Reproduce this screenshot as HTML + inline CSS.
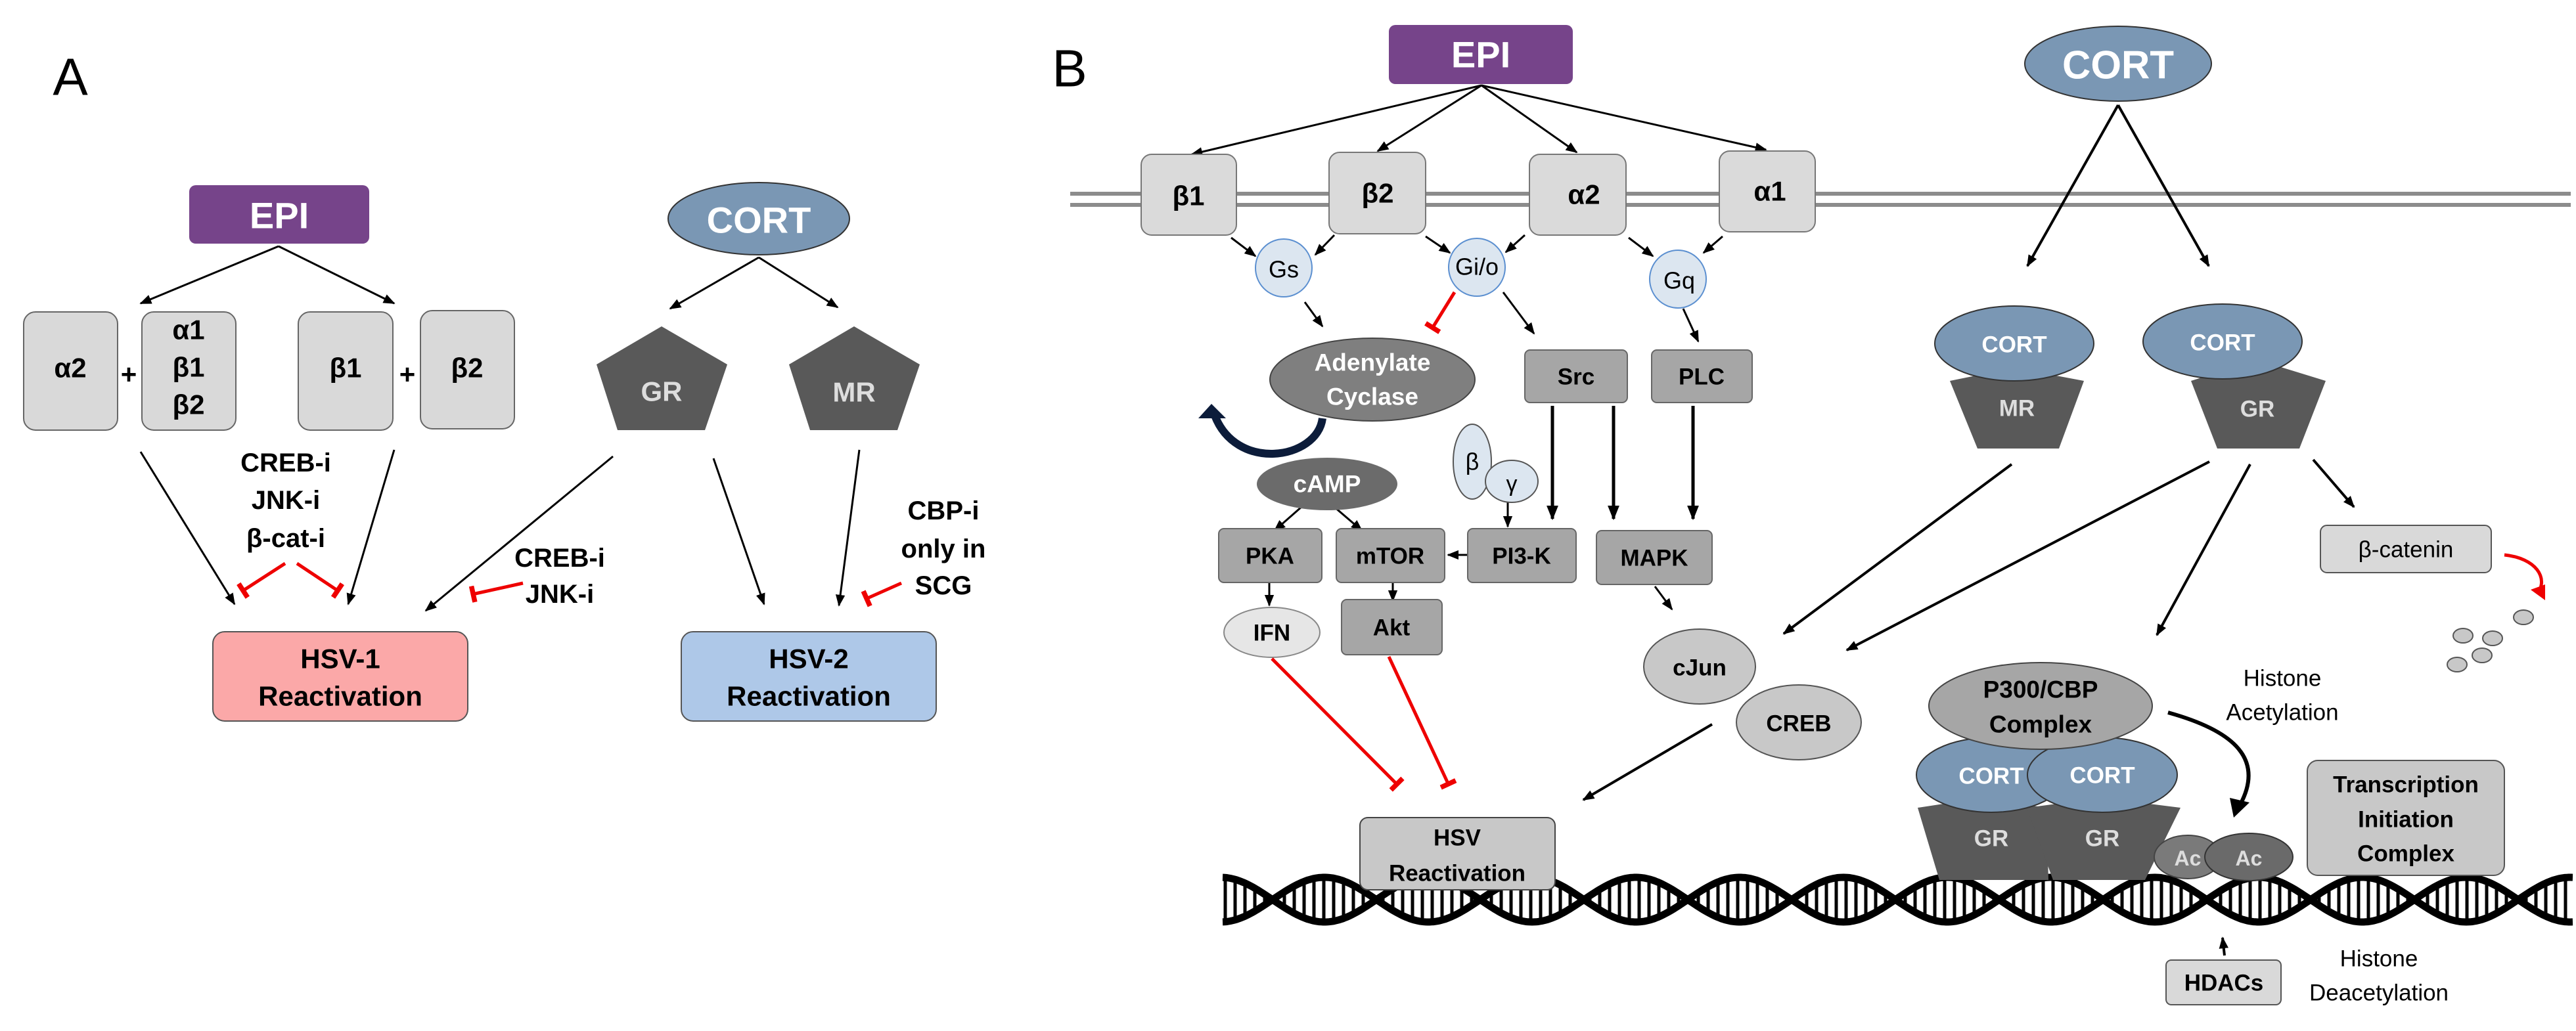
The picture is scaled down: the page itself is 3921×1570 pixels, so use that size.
<!DOCTYPE html>
<html><head><meta charset="utf-8"><style>
html,body{margin:0;padding:0;background:#fff}
svg{display:block}
text{font-family:"Liberation Sans",sans-serif;font-weight:bold;text-anchor:middle;dominant-baseline:central}
text.n{font-weight:normal}
</style></head><body>
<svg id="s" width="3921" height="1570" viewBox="0 0 3921 1570" xmlns="http://www.w3.org/2000/svg">
<defs>
<marker id="ar" viewBox="0 0 10 10" refX="9" refY="5" markerWidth="6" markerHeight="6" orient="auto" markerUnits="strokeWidth"><path d="M0,1 L10,5 L0,9 z" fill="#000"/></marker>
<marker id="ar2" viewBox="0 0 10 10" refX="9" refY="5" markerWidth="4.5" markerHeight="4.5" orient="auto" markerUnits="strokeWidth"><path d="M0,1 L10,5 L0,9 z" fill="#000"/></marker>
<marker id="tee" viewBox="0 0 10 10" refX="8" refY="5" markerWidth="5" markerHeight="5" orient="auto" markerUnits="strokeWidth"><rect x="6" y="0" width="3" height="10" fill="#e00"/></marker>
</defs>
<rect width="3921" height="1570" fill="#fff"/>

<!-- ===== Panel A ===== -->
<text x="107" y="117" class="n" font-size="80">A</text>
<rect x="288" y="282" width="274" height="89" rx="10" fill="#76448a"/>
<text x="425" y="328" fill="#fff" font-size="56">EPI</text>
<ellipse cx="1155" cy="333" rx="138" ry="55" fill="#7a97b4" stroke="#333" stroke-width="2"/>
<text x="1155" y="335" fill="#fff" font-size="56">CORT</text>
<g stroke="#000" stroke-width="3" fill="none" marker-end="url(#ar)">
<line x1="424" y1="375" x2="214" y2="462"/><line x1="424" y1="375" x2="600" y2="462"/>
<line x1="1155" y1="392" x2="1020" y2="470"/><line x1="1155" y1="392" x2="1275" y2="468"/>
<line x1="214" y1="688" x2="357" y2="920"/><line x1="600" y1="685" x2="530" y2="920"/>
<line x1="933" y1="695" x2="648" y2="930"/><line x1="1086" y1="698" x2="1163" y2="920"/>
<line x1="1308" y1="685" x2="1277" y2="922"/>
</g>
<g fill="#d9d9d9" stroke="#666" stroke-width="2">
<rect x="36" y="475" width="143" height="180" rx="18"/>
<rect x="216" y="475" width="143" height="180" rx="18"/>
<rect x="454" y="475" width="144" height="180" rx="18"/>
<rect x="640" y="473" width="143" height="180" rx="18"/>
</g>
<g font-size="42">
<text x="107" y="560">α2</text>
<text x="287" y="502">α1</text><text x="287" y="559">β1</text><text x="287" y="616">β2</text>
<text x="526" y="560">β1</text><text x="711" y="560">β2</text>
<text x="196" y="570">+</text><text x="620" y="570">+</text>
</g>
<polygon points="1007,497 1107,555 1073,655 940,655 908,555" fill="#595959"/>
<polygon points="1300,497 1400,555 1366,655 1233,655 1201,555" fill="#595959"/>
<text x="1007" y="596" fill="#ddd" font-size="42">GR</text>
<text x="1300" y="597" fill="#ddd" font-size="42">MR</text>
<g font-size="40">
<text x="435" y="705">CREB-i</text><text x="435" y="762">JNK-i</text><text x="435" y="820">β-cat-i</text>
<text x="852" y="850">CREB-i</text><text x="852" y="905">JNK-i</text>
<text x="1436" y="778">CBP-i</text><text x="1436" y="836">only in</text><text x="1436" y="892">SCG</text>
</g>
<g stroke="#e00" stroke-width="5" fill="none" marker-end="url(#tee)">
<line x1="434" y1="858" x2="369" y2="900"/><line x1="452" y1="858" x2="515" y2="900"/>
<line x1="796" y1="888" x2="719" y2="905"/><line x1="1372" y1="888" x2="1318" y2="912"/>
</g>
<rect x="324" y="962" width="388" height="136" rx="18" fill="#fba8a8" stroke="#555" stroke-width="2"/>
<text x="518" y="1003" font-size="42">HSV-1</text><text x="518" y="1060" font-size="42">Reactivation</text>
<rect x="1037" y="962" width="388" height="136" rx="18" fill="#aec8e8" stroke="#555" stroke-width="2"/>
<text x="1231" y="1003" font-size="42">HSV-2</text><text x="1231" y="1060" font-size="42">Reactivation</text>

<!-- ===== Panel B ===== -->
<text x="1628" y="104" class="n" font-size="80">B</text>
<line x1="1629" y1="295" x2="3913" y2="295" stroke="#8c8c8c" stroke-width="6"/>
<line x1="1629" y1="312" x2="3913" y2="312" stroke="#8c8c8c" stroke-width="6"/>
<rect x="2114" y="38" width="280" height="90" rx="10" fill="#76448a"/>
<text x="2254" y="83" fill="#fff" font-size="56">EPI</text>
<g stroke="#000" stroke-width="3" fill="none" marker-end="url(#ar)">
<line x1="2255" y1="130" x2="1814" y2="235"/><line x1="2255" y1="130" x2="2097" y2="230"/>
<line x1="2255" y1="130" x2="2400" y2="232"/><line x1="2255" y1="130" x2="2688" y2="228"/>
</g>
<g fill="#dadada" stroke="#777" stroke-width="2">
<rect x="1737" y="235" width="145" height="123" rx="16"/>
<rect x="2023" y="232" width="147" height="124" rx="16"/>
<rect x="2328" y="235" width="147" height="123" rx="16"/>
<rect x="2617" y="230" width="146" height="123" rx="16"/>
</g>
<g font-size="42"><text x="1809" y="298">β1</text><text x="2097" y="294">β2</text><text x="2411" y="296">α2</text><text x="2694" y="291">α1</text></g>
<g fill="#dce6f0" stroke="#5b8fd0" stroke-width="2">
<ellipse cx="1954" cy="408" rx="43" ry="44"/><ellipse cx="2248" cy="407" rx="43" ry="44"/><ellipse cx="2554" cy="425" rx="43" ry="44"/>
</g>
<g font-size="36"><text class="n" x="1954" y="410">Gs</text><text class="n" x="2248" y="406">Gi/o</text><text class="n" x="2556" y="427">Gq</text></g>
<g stroke="#000" stroke-width="3" fill="none" marker-end="url(#ar)">
<line x1="1874" y1="362" x2="1911" y2="390"/><line x1="2031" y1="358" x2="2002" y2="388"/>
<line x1="2170" y1="360" x2="2207" y2="385"/><line x1="2321" y1="358" x2="2292" y2="384"/>
<line x1="2479" y1="362" x2="2516" y2="390"/><line x1="2622" y1="360" x2="2593" y2="385"/>
<line x1="1986" y1="460" x2="2013" y2="497"/><line x1="2288" y1="445" x2="2335" y2="508"/>
<line x1="2562" y1="470" x2="2585" y2="520"/>
<line x1="1981" y1="772" x2="1940" y2="808"/><line x1="2031" y1="772" x2="2073" y2="808"/>
<line x1="2234" y1="845" x2="2204" y2="845"/>
<line x1="1932" y1="888" x2="1932" y2="922"/><line x1="2120" y1="884" x2="2120" y2="915"/>
<line x1="2295" y1="765" x2="2295" y2="802"/>
<line x1="2519" y1="893" x2="2545" y2="928"/>
</g>
<line x1="2214" y1="445" x2="2180" y2="500" stroke="#e00" stroke-width="5" marker-end="url(#tee)"/>
<ellipse cx="2089" cy="578" rx="156" ry="63" fill="#7f7f7f" stroke="#444" stroke-width="2"/>
<text x="2089" y="552" fill="#fff" font-size="37">Adenylate</text><text x="2089" y="604" fill="#fff" font-size="37">Cyclase</text>
<path d="M2013,637 C2005,700 1880,720 1848,630" stroke="#0c1c3a" stroke-width="12" fill="none"/>
<polygon points="1844,615 1824,637 1866,637" fill="#0c1c3a"/>
<ellipse cx="2020" cy="737" rx="107" ry="40" fill="#6b6b6b"/>
<text x="2020" y="737" fill="#fff" font-size="37">cAMP</text>
<g fill="#a6a6a6" stroke="#666" stroke-width="2">
<rect x="2321" y="533" width="156" height="80" rx="8"/><rect x="2514" y="533" width="153" height="80" rx="8"/>
<rect x="1855" y="805" width="157" height="82" rx="8"/><rect x="2034" y="805" width="165" height="82" rx="8"/>
<rect x="2234" y="805" width="165" height="82" rx="8"/><rect x="2430" y="808" width="176" height="82" rx="8"/>
<rect x="2042" y="913" width="153" height="84" rx="8"/>
</g>
<g font-size="35"><text x="2399" y="574">Src</text><text x="2590" y="574">PLC</text>
<text x="1933" y="847">PKA</text><text x="2116" y="847">mTOR</text><text x="2316" y="847">PI3-K</text><text x="2518" y="850">MAPK</text>
<text x="2118" y="956">Akt</text></g>
<g stroke="#000" stroke-width="5" fill="none" marker-end="url(#ar2)">
<line x1="2363" y1="618" x2="2363" y2="790"/><line x1="2456" y1="618" x2="2456" y2="790"/><line x1="2577" y1="618" x2="2577" y2="790"/>
</g>
<ellipse cx="2241" cy="703" rx="29" ry="57" fill="#dce6f0" stroke="#555" stroke-width="2"/>
<ellipse cx="2301" cy="733" rx="40" ry="32" fill="#dce6f0" stroke="#555" stroke-width="2"/>
<text class="n" x="2241" y="703" font-size="36">β</text><text class="n" x="2301" y="737" font-size="34">γ</text>
<ellipse cx="1936" cy="963" rx="73" ry="38" fill="#e6e6e6" stroke="#888" stroke-width="2"/>
<text x="1936" y="964" font-size="35">IFN</text>
<ellipse cx="2587" cy="1015" rx="85" ry="57" fill="#c8c8c8" stroke="#555" stroke-width="2"/>
<ellipse cx="2738" cy="1100" rx="95" ry="57" fill="#c8c8c8" stroke="#555" stroke-width="2"/>
<text x="2587" y="1017" font-size="35">cJun</text><text x="2738" y="1102" font-size="35">CREB</text>
<g stroke="#e00" stroke-width="5" fill="none" marker-end="url(#tee)">
<line x1="1936" y1="1003" x2="2127" y2="1195"/><line x1="2114" y1="1000" x2="2205" y2="1195"/>
</g>
<g stroke="#000" stroke-width="4" fill="none" marker-end="url(#ar2)">
<line x1="2606" y1="1103" x2="2410" y2="1218"/>
<line x1="3062" y1="707" x2="2715" y2="965"/><line x1="3363" y1="703" x2="2811" y2="990"/>
<line x1="3425" y1="707" x2="3283" y2="967"/><line x1="3521" y1="700" x2="3583" y2="772"/>
<line x1="3224" y1="160" x2="3086" y2="405"/><line x1="3224" y1="160" x2="3362" y2="405"/>
</g>
<!-- DNA -->
<g id="dna"></g>
<rect x="2070" y="1245" width="297" height="110" rx="12" fill="#c8c8c8" stroke="#444" stroke-width="2"/>
<text x="2218" y="1276" font-size="35">HSV</text><text x="2218" y="1330" font-size="35">Reactivation</text>

<ellipse cx="3224" cy="97" rx="142" ry="57" fill="#7a97b4" stroke="#333" stroke-width="2"/>
<text x="3224" y="99" fill="#fff" font-size="60">CORT</text>
<polygon points="2968,580 3066,560 3172,580 3134,683 3010,683" fill="#595959"/>
<ellipse cx="3066" cy="523" rx="121" ry="57" fill="#7a97b4" stroke="#333" stroke-width="2"/>
<text x="3066" y="525" fill="#fff" font-size="35">CORT</text><text x="3070" y="622" fill="#ddd" font-size="35">MR</text>
<polygon points="3335,580 3436,548 3540,580 3500,683 3375,683" fill="#595959"/>
<ellipse cx="3383" cy="520" rx="121" ry="57" fill="#7a97b4" stroke="#333" stroke-width="2"/>
<text x="3383" y="522" fill="#fff" font-size="35">CORT</text><text x="3436" y="623" fill="#ddd" font-size="35">GR</text>
<rect x="3532" y="800" width="260" height="72" rx="10" fill="#d9d9d9" stroke="#555" stroke-width="2"/>
<text class="n" x="3662" y="837" font-size="35">β-catenin</text>
<path d="M3812,845 C3860,850 3880,880 3862,905" stroke="#e00" stroke-width="5" fill="none"/>
<polygon points="3852,898 3874,914 3874,890" fill="#e00"/>
<g fill="#c8c8c8" stroke="#555" stroke-width="2">
<ellipse cx="3841" cy="940" rx="15" ry="11"/><ellipse cx="3794" cy="972" rx="15" ry="11"/><ellipse cx="3749" cy="968" rx="15" ry="11"/>
<ellipse cx="3778" cy="998" rx="15" ry="11"/><ellipse cx="3740" cy="1012" rx="15" ry="11"/>
</g>
<polygon points="2919,1230 3017,1215 3115,1230 3118,1340 2952,1340" fill="#595959"/>
<polygon points="3085,1230 3200,1215 3319,1230 3265,1340 3125,1340" fill="#595959"/>
<ellipse cx="3031" cy="1180" rx="114" ry="57" fill="#7a97b4" stroke="#333" stroke-width="2"/>
<ellipse cx="3200" cy="1180" rx="114" ry="57" fill="#7a97b4" stroke="#333" stroke-width="2"/>
<text x="3031" y="1182" fill="#fff" font-size="35">CORT</text><text x="3200" y="1181" fill="#fff" font-size="35">CORT</text>
<text x="3031" y="1277" fill="#ddd" font-size="35">GR</text><text x="3200" y="1277" fill="#ddd" font-size="35">GR</text>
<ellipse cx="3106" cy="1075" rx="170" ry="66" fill="#a6a6a6" stroke="#444" stroke-width="2"/>
<text x="3106" y="1050" font-size="37">P300/CBP</text><text x="3106" y="1103" font-size="37">Complex</text>
<ellipse cx="3330" cy="1305" rx="51" ry="33" fill="#7a7a7a" stroke="#444" stroke-width="2"/>
<ellipse cx="3423" cy="1305" rx="67" ry="36" fill="#6a6a6a" stroke="#333" stroke-width="2"/>
<text x="3330" y="1307" fill="#ddd" font-size="32">Ac</text><text x="3423" y="1307" fill="#ddd" font-size="32">Ac</text>
<g font-size="35"><text class="n" x="3474" y="1033">Histone</text><text class="n" x="3474" y="1085">Acetylation</text>
<text class="n" x="3621" y="1460">Histone</text><text class="n" x="3621" y="1512">Deacetylation</text></g>
<path d="M3300,1085 C3390,1110 3450,1150 3410,1225" stroke="#000" stroke-width="6" fill="none"/>
<polygon points="3400,1245 3394,1215 3424,1222" fill="#000"/>
<rect x="3512" y="1158" width="300" height="175" rx="16" fill="#c8c8c8" stroke="#555" stroke-width="2"/>
<g font-size="35"><text x="3662" y="1195">Transcription</text><text x="3662" y="1248">Initiation</text><text x="3662" y="1300">Complex</text></g>
<rect x="3297" y="1462" width="175" height="68" rx="8" fill="#d9d9d9" stroke="#555" stroke-width="2"/>
<text x="3385" y="1497" font-size="35">HDACs</text>
<line x1="3386" y1="1455" x2="3383" y2="1428" stroke="#000" stroke-width="4" marker-end="url(#ar2)"/>
</svg>
<script>
(function(){
var g=document.getElementById('dna'),ns='http://www.w3.org/2000/svg';
var x0=1861,x1=3917,cy=1370,A=34,c0=1937,h=158;
function y(x,s){return cy+s*A*Math.sin(Math.PI*(x-c0)/h);}
var r='';
for(var x=x0+4;x<x1;x+=15){r+='M'+x+','+y(x,1)+'L'+x+','+y(x,-1);}
var p=document.createElementNS(ns,'path');p.setAttribute('d',r);p.setAttribute('stroke','#000');p.setAttribute('stroke-width','5');g.appendChild(p);
[1,-1].forEach(function(s){var d='';for(var x=x0;x<=x1;x+=3){d+=(x==x0?'M':'L')+x+','+y(x,s).toFixed(1);}
var q=document.createElementNS(ns,'path');q.setAttribute('d',d);q.setAttribute('stroke','#000');q.setAttribute('stroke-width','11');q.setAttribute('fill','none');g.appendChild(q);});
})();
</script>
</body></html>
